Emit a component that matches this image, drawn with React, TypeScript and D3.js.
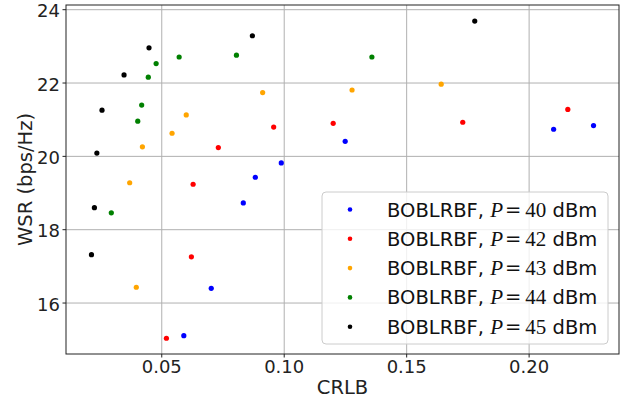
import React from 'react';
import * as d3 from 'd3';

const powers = [40, 42, 43, 44, 45];
const colors = ['#0000ff', '#ff0000', '#ffa500', '#008000', '#000000'];

const crlb40 = [0.059, 0.0702, 0.0833, 0.0882, 0.0988, 0.1249, 0.21, 0.2263];
const wsr40 = [15.11, 16.4, 18.73, 19.43, 19.82, 20.41, 20.74, 20.84];
const crlb42 = [0.0519, 0.0621, 0.0628, 0.0731, 0.0957, 0.12, 0.1729, 0.2158];
const wsr42 = [15.04, 17.26, 19.24, 20.24, 20.8, 20.9, 20.93, 21.28];
const crlb43 = [0.0396, 0.0369, 0.0421, 0.0542, 0.06, 0.0912, 0.1277, 0.1641];
const wsr43 = [16.43, 19.28, 20.26, 20.63, 21.13, 21.74, 21.81, 21.97];
const crlb44 = [0.0294, 0.0402, 0.0418, 0.0445, 0.0477, 0.0571, 0.1358, 0.0805];
const wsr44 = [18.46, 20.96, 21.4, 22.16, 22.53, 22.71, 22.71, 22.76];
const crlb45 = [0.0213, 0.0225, 0.0235, 0.0256, 0.0346, 0.0448, 0.087, 0.1778];
const wsr45 = [17.32, 18.6, 20.09, 21.26, 22.22, 22.96, 23.29, 23.69];

const xTicks = [0.05, 0.1, 0.15, 0.2];
const yTicks = [16, 18, 20, 22, 24];

const series = [
  { x: crlb40, y: wsr40 },
  { x: crlb42, y: wsr42 },
  { x: crlb43, y: wsr43 },
  { x: crlb44, y: wsr44 },
  { x: crlb45, y: wsr45 },
];

const W = 624;
const H = 405;
const m = { left: 66, right: 5, top: 5, bottom: 51 };

export default function App() {
  const x = d3.scaleLinear().domain([0.0109, 0.2367]).range([m.left, W - m.right]);
  const y = d3.scaleLinear().domain([14.61, 24.128]).range([H - m.bottom, m.top]);
  const font = 'DejaVu Sans, sans-serif';
  const serif = 'Liberation Serif, serif';
  const [x0, x1] = x.range();
  const [y0, y1] = y.range();

  const lg = { x: 322, y: 192, w: 286, h: 152, row: 29.3 };

  return (
    <div style={{ position: 'fixed', left: 0, top: 0 }}>
      <svg width={W} height={H} style={{ display: 'block', background: '#fff' }} fontFamily={font}>
        <rect x={0} y={0} width={W} height={H} fill="#fff" />
        {xTicks.map(t => (
          <line key={'gx' + t} x1={x(t)} x2={x(t)} y1={y1} y2={y0} stroke="#b0b0b0" strokeWidth={1} />
        ))}
        {yTicks.map(t => (
          <line key={'gy' + t} x1={x0} x2={x1} y1={y(t)} y2={y(t)} stroke="#b0b0b0" strokeWidth={1} />
        ))}
        {series.map((s, i) =>
          s.x.map((v, j) => (
            <circle key={`p${i}-${j}`} cx={x(v)} cy={y(s.y[j])} r={2.6} fill={colors[i]} />
          ))
        )}
        <rect x={x0} y={y1} width={x1 - x0} height={y0 - y1} fill="none" stroke="#222" strokeWidth={1} />
        {xTicks.map(t => (
          <g key={'tx' + t}>
            <line x1={x(t)} x2={x(t)} y1={y0} y2={y0 + 3.5} stroke="#222" />
            <text x={x(t)} y={y0 + 19} textAnchor="middle" fontSize={18} fill="#222">
              {d3.format('.2f')(t)}
            </text>
          </g>
        ))}
        {yTicks.map(t => (
          <g key={'ty' + t}>
            <line x1={x0 - 3.5} x2={x0} y1={y(t)} y2={y(t)} stroke="#222" />
            <text x={x0 - 6} y={y(t)} dy="0.42em" textAnchor="end" fontSize={18} fill="#222">
              {t}
            </text>
          </g>
        ))}
        <text x={(x0 + x1) / 2} y={394} textAnchor="middle" fontSize={19.5} fill="#222">CRLB</text>
        <text transform={`translate(32,${(y0 + y1) / 2}) rotate(-90)`} textAnchor="middle" fontSize={19.5} fill="#222">
          WSR (bps/Hz)
        </text>
        <rect x={lg.x} y={lg.y} width={lg.w} height={lg.h} rx={4} fill="#fff" fillOpacity={0.8} stroke="#cccccc" />
        {powers.map((p, i) => {
          const cy = lg.y + 17.5 + i * lg.row;
          return (
            <g key={'lg' + p}>
              <circle cx={350} cy={cy} r={2.3} fill={colors[i]} />
              <text x={387} y={cy} dy="0.36em" fontSize={19.5} fill="#111">
                BOBLRBF,{' '}
                <tspan fontFamily={serif} fontStyle="italic" fontSize={21}>P</tspan>
                <tspan fontFamily="DejaVu Serif, serif" dx={2}>=</tspan>
                <tspan fontFamily={serif} fontSize={21} dx={4}>{p}</tspan>
                <tspan> dBm</tspan>
              </text>
            </g>
          );
        })}
      </svg>
    </div>
  );
}
